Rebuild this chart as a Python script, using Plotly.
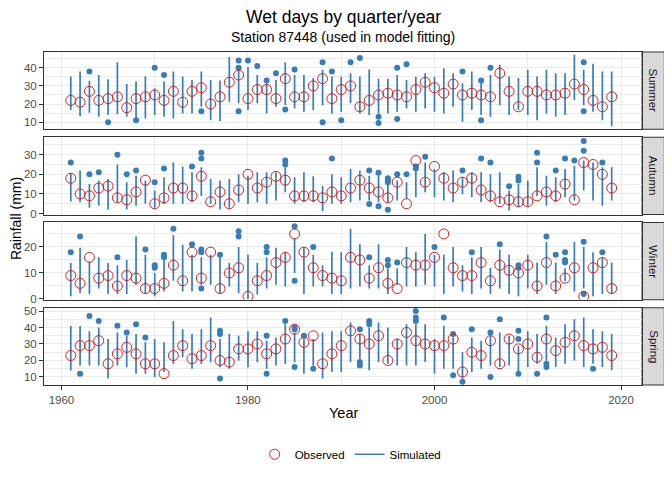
import plotly.graph_objects as go
from plotly.subplots import make_subplots

years = list(range(1961, 2020))
seasons = ['Summer', 'Autumn', 'Winter', 'Spring']

# observed values (red circles)
summer_obs = [22, 21, 27, 22, 23, 24, 18, 23, 24, 25, 22, 27, 21, 27, 29, 20, 24, 32, 36, 23,
              28, 28, 23, 34, 24, 24, 30, 34, 23, 28, 30, 18.5, 22, 25, 26, 25, 24, 28, 32, 29,
              26, 31, 25, 26, 25, 24, 37, 27, 18.5, 27, 27, 25, 25, 26, 31, 28, 22, 18.5, 24]
autumn_obs = [18, 10, 9, 13, 14, 8, 7, 11, 17, 5, 8, 13, 13, 9, 19, 6, 11, 5, 12, 20,
              13, 16, 19, 17, 9, 9, 9, 8, 11, 9, 13, 17, 13, 11, 8, 16, 5, 27, 16, 24,
              18, 13, 16, 18, 12, 9, 6, 7, 6, 6, 9, 11, 9, 15, 7, 26, 25, 20, 13]
winter_obs = [9, 6, 16, 8, 9, 5, 9, 8, 4, 4, 6, 13, 7, 18, 8, 18, 4, 10, 12, 1,
              7, 9, 14, 16, 25, 18, 12, 9, 8, 7, 16, 15, 8, 12, 6, 4, 14, 13, 13, 16,
              25, 12, 9, 9, 14, 7, 13, 11, 10, 13, 5, 14, 5, 8, 12, 1, 12, 14, 4]
spring_obs = [23, 29, 29, 32, 18, 24, 28, 24, 18, 18, 12, 23, 29, 21, 23, 29, 20, 19, 27, 27,
              30, 24, 27, 33, 39, 31, 35, 18, 24, 29, 38, 33, 30, 35, 20, 30, 37, 32, 30, 29,
              29, 33, 13, 25, 23, 32, 18, 33, 27, 30, 22, 33, 26, 31, 35, 29, 27, 28, 23]

# simulated whisker ranges (blue lines)
summer_lo = [16.7, 13.3, 15.2, 13, 14, 14.4, 13, 12, 12, 14, 13, 12, 14.8, 14.8, 18.5, 11, 10.7, 21.3, 20.4, 16.7,
             20.4, 14.8, 18.5, 19.5, 17.6, 15.7, 16.7, 19.4, 14.8, 15.7, 20.4, 14.8, 14, 14.8, 14.8, 15.7, 17.6, 15.7, 17.6, 15.7,
             14.8, 18.5, 10.2, 16.7, 14, 13, 19.4, 14, 16.7, 14, 11, 14.8, 13, 14, 22.2, 19.4, 15.7, 11, 7.8]
summer_hi = [35.2, 38, 32.8, 36, 33.7, 43, 31, 32.4, 35.2, 28.7, 32.4, 38, 35.2, 33.3, 38, 33.3, 33, 46, 39.8, 40.4,
             36, 31.5, 33.3, 43, 36, 36, 34.3, 38.9, 35.2, 35, 37, 35.2, 39, 34, 34, 36, 33.3, 35, 37, 35,
             39.8, 37, 31.5, 38, 32.4, 36, 41.7, 35.2, 34.3, 38.9, 35.2, 38.9, 37, 37, 47.2, 38.9, 42.2, 38, 38]
autumn_lo = [6.1, 5.8, 2.9, 4, 1.9, 5.8, 2, 4, 5, 3, 5, 5, 5, 5.8, 9, 5, 2, 3, 5.8, 5,
             5.8, 5, 6.6, 10.8, 5, 5.8, 5.8, 1.2, 5, 5, 5.8, 6.6, 6.6, 5.8, 5.8, 6.6, 7.5, 8.3, 10.8, 8.3,
             6.6, 5.8, 10, 8.3, 5.8, 5.8, 5, 1.5, 3.2, 4, 9, 4, 5.8, 8.3, 6.6, 11.7, 6.6, 4, 6.6]
autumn_hi = [20.5, 21.9, 15, 16.8, 17.6, 25, 16, 19.3, 16.8, 11.7, 18.5, 26, 24, 21, 23.6, 17.6, 16.8, 17.6, 20, 19.3,
             21, 21, 21, 23.6, 18.5, 21, 19, 14, 20, 18.5, 22.7, 21.9, 19.3, 19.3, 15, 16.8, 16, 21.5, 26, 22.7,
             21, 21.9, 18.5, 21, 21, 20, 21, 11.7, 15, 16.8, 23.6, 19.3, 18.5, 22.7, 24.4, 27, 26, 23.6, 23.6]
winter_lo = [1, 2.3, 1.9, 4, 1.9, 1.9, 1.9, 5.5, 1.9, 1, 2.9, 7, 2.9, 2.9, 5.5, 5.5, 1.9, 4.8, 2.3, 0,
             1.7, 4, 5.5, 4.8, 10, 1.9, 4.8, 4.8, 1.9, 1.9, 4, 4.8, 4, 4, 1.9, 5.5, 4.8, 4.8, 5.5, 4.8,
             1.9, 4.8, 2.9, 1.9, 4, 1.9, 4, 1.9, 1, 4, 1.9, 5.5, 1.9, 6.8, 2.9, 4, 1, 1.9, 1.9]
winter_hi = [13.8, 19.7, 14.4, 16, 13.8, 13, 15, 24, 17, 10, 15, 24.6, 20.8, 17, 16, 17, 16, 13.8, 20, 17,
             13.8, 16, 19.7, 18.2, 23.3, 19.7, 17, 13, 18.2, 18, 27, 21, 13, 21, 11.8, 11.8, 20, 18, 25, 17,
             17, 20, 13, 16, 20, 12, 19, 17, 11.8, 17, 14, 22, 14, 11.8, 22, 20, 18, 16, 14]
spring_lo = [13.9, 16.9, 16.9, 16.9, 9, 16.9, 15.9, 12, 12, 10, 13, 17.9, 22, 14.9, 17.9, 18.9, 15.9, 14.9, 20, 15.9,
             18.9, 14.9, 16.9, 17.9, 18.9, 12, 16.9, 9, 13, 13, 19, 21, 14, 19, 18, 17, 17, 17, 19, 12,
             15, 15, 9, 13, 15, 17, 16, 17, 13, 16, 18, 20, 16, 18, 20, 16, 18, 16, 14]
spring_hi = [40.9, 40.9, 37.8, 40, 33, 37, 35, 36, 31, 33, 31, 44, 39, 36, 39, 46, 33, 36, 35, 37.8,
             37.8, 32, 34, 42, 37, 33, 33, 37, 37.8, 37.8, 43, 36, 40, 43, 40, 33, 42, 42, 42, 33,
             41, 34, 25, 34, 32, 35, 37, 35, 29, 37.8, 36, 41, 34, 42, 45, 46, 39, 37.8, 36]

# simulated outliers (blue dots)
summer_out_year = [1963, 1965, 1968, 1970, 1971, 1975, 1979, 1979, 1979, 1980, 1981, 1982, 1983, 1984, 1985,
                   1988, 1988, 1989, 1990, 1991, 1992, 1994, 1994, 1996, 1996, 1997, 2003, 2005, 2005, 2006,
                   2016, 2016]
summer_out_val = [38, 10, 11, 40, 36, 16, 44, 40, 16, 44, 41, 33, 37, 17, 39,
                  43, 10, 38, 11, 43, 45.4, 13, 9.6, 40, 11.7, 42, 38, 33, 11, 40,
                  43, 16]
autumn_out_year = [1961, 1963, 1964, 1966, 1967, 1968, 1970, 1971, 1974, 1975, 1975, 1984, 1984, 1989,
                   1993, 1993, 1994, 1994, 1995, 1995, 1995, 1995, 1996, 1997, 1998, 1998, 1999, 2003,
                   2005, 2006, 2008, 2009, 2009, 2011, 2011, 2013, 2014, 2015, 2016, 2016, 2018]
autumn_out_val = [26, 20, 21, 30, 20, 22, 16, 23, 24, 31, 28, 27, 25, 28,
                  21.9, 4.9, 20.8, 3.7, 18, 16.8, 16, 1.9, 20, 20, 24, 23, 29, 22,
                  28, 26, 13.9, 18.8, 16.8, 31, 26, 22, 28, 27, 37, 32, 26]
winter_out_year = [1961, 1962, 1966, 1969, 1970, 1970, 1971, 1971, 1972, 1974, 1975, 1975, 1975, 1977,
                   1979, 1979, 1982, 1982, 1985, 1985, 1987, 1993, 1995, 1995, 1996, 2000, 2004, 2007,
                   2009, 2009, 2012, 2013, 2014, 2014, 2014, 2016, 2016, 2018]
winter_out_val = [18, 24, 16, 19, 13, 12, 17, 16, 27, 21, 19, 18, 4, 17,
                  26, 24, 20, 18, 28, 7, 20, 16, 15, 13, 14, 20, 18, 21,
                  13, 12, 24, 17, 18, 15, 14, 22, 1.9, 18]
spring_out_year = [1962, 1963, 1964, 1966, 1967, 1968, 1969, 1977, 1977, 1977, 1982, 1982, 1984, 1985,
                   1985, 1985, 1986, 1987, 1992, 1992, 1992, 1993, 1993, 1998, 1998, 1998, 2001, 2002,
                   2002, 2003, 2004, 2006, 2006, 2007, 2009, 2009, 2009, 2011, 2012, 2012, 2012, 2017]
spring_out_val = [12, 47, 44, 41, 37, 42, 34, 38, 36, 9, 35, 12, 44, 40,
                  39, 16, 35, 15, 39, 19, 17, 44, 42, 50, 46, 44, 46, 36,
                  11, 7, 39, 37, 10, 45, 38, 33, 12, 12, 46, 18, 16, 15]

data = {
    'Summer': (summer_obs, summer_lo, summer_hi, summer_out_year, summer_out_val),
    'Autumn': (autumn_obs, autumn_lo, autumn_hi, autumn_out_year, autumn_out_val),
    'Winter': (winter_obs, winter_lo, winter_hi, winter_out_year, winter_out_val),
    'Spring': (spring_obs, spring_lo, spring_hi, spring_out_year, spring_out_val),
}
y_ranges = {'Summer': [6.1, 48.7], 'Autumn': [-0.5, 38.9], 'Winter': [-0.3, 29.4], 'Spring': [5.1, 52]}

red = '#E41A1C'
blue = '#377EB8'
font = 'Liberation Sans, Arial, sans-serif'

fig = make_subplots(rows=4, cols=1, shared_xaxes=True, vertical_spacing=0.024)

for i, s in enumerate(seasons):
    obs, lo, hi, oy, ov = data[s]
    row = i + 1
    wx, wy = [], []
    for yr, a, b in zip(years, lo, hi):
        wx += [yr, yr, None]
        wy += [a, b, None]
    fig.add_trace(go.Scatter(
        x=wx, y=wy, mode='lines', line=dict(color=blue, width=1.7),
        name='Simulated', legendgroup='sim', showlegend=(i == 0), legendrank=2
    ), row=row, col=1)
    fig.add_trace(go.Scatter(
        x=oy, y=ov, mode='markers', marker=dict(color=blue, size=6),
        name='Simulated', legendgroup='sim', showlegend=False
    ), row=row, col=1)
    fig.add_trace(go.Scatter(
        x=years, y=obs, mode='markers',
        marker=dict(symbol='circle-open', color=red, size=10, line=dict(width=1)),
        name='Observed', legendgroup='obs', showlegend=(i == 0), legendrank=1
    ), row=row, col=1)

grid = '#EBEBEB'
for i, s in enumerate(seasons):
    row = i + 1
    fig.update_xaxes(
        range=[1958.13, 2022.25], tick0=1960, dtick=20,
        showgrid=True, gridcolor=grid, gridwidth=1,
        minor=dict(dtick=10, tick0=1960, showgrid=True, gridcolor=grid, gridwidth=0.5),
        showline=True, mirror=True, linecolor='#333333', linewidth=1,
        zeroline=False, ticks='outside' if row == 4 else '', ticklen=4, tickcolor='#333333',
        tickfont=dict(size=11.5, color='#4D4D4D', family=font),
        row=row, col=1)
    fig.update_yaxes(
        range=y_ranges[s], tick0=0, dtick=10,
        showgrid=True, gridcolor=grid, gridwidth=1,
        minor=dict(dtick=5, tick0=0, showgrid=True, gridcolor=grid, gridwidth=0.5),
        showline=True, mirror=True, linecolor='#333333', linewidth=1,
        zeroline=False, ticks='outside', ticklen=4, tickcolor='#333333',
        tickfont=dict(size=11.5, color='#4D4D4D', family=font),
        row=row, col=1)

# facet strips on the right
strip_w = 22.3 / 598
for i, s in enumerate(seasons):
    yax = 'yaxis' if i == 0 else f'yaxis{i + 1}'
    d0, d1 = fig.layout[yax].domain
    fig.add_shape(type='rect', xref='paper', yref='paper', x0=1, x1=1 + strip_w, y0=d0, y1=d1,
                  fillcolor='#D9D9D9', line=dict(color='#333333', width=1), layer='below')
    fig.add_annotation(text=s, xref='paper', yref='paper', x=1 + strip_w / 2, y=(d0 + d1) / 2,
                       xanchor='center', yanchor='middle', textangle=90, showarrow=False,
                       font=dict(size=11.5, color='#1A1A1A', family=font))

fig.add_annotation(text='Wet days by quarter/year', xref='paper', yref='paper', x=0.5, y=1.106,
                   showarrow=False, xanchor='center', yanchor='middle',
                   font=dict(size=17.5, color='black', family=font))
fig.add_annotation(text='Station 87448 (used in model fitting)', xref='paper', yref='paper', x=0.5, y=1.046,
                   showarrow=False, xanchor='center', yanchor='middle',
                   font=dict(size=14, color='black', family=font))
fig.add_annotation(text='Rainfall (mm)', xref='paper', yref='paper', x=-0.0475, y=0.5, textangle=-90,
                   showarrow=False, xanchor='center', yanchor='middle',
                   font=dict(size=14, color='black', family=font))
fig.add_annotation(text='Year', xref='paper', yref='paper', x=0.5, y=-0.085,
                   showarrow=False, xanchor='center', yanchor='middle',
                   font=dict(size=14.5, color='black', family=font))

# the page adds an 8px body margin, so the plot area is offset by that amount
fig.update_layout(
    width=672, height=480,
    margin=dict(l=36, r=38, t=44, b=103),
    plot_bgcolor='white', paper_bgcolor='white',
    font=dict(family=font),
    legend=dict(orientation='h', x=0.512, xanchor='center', y=-0.208, yanchor='middle',
                font=dict(size=11.5, color='black', family=font), itemwidth=30),
)

fig.write_html("out.html")
